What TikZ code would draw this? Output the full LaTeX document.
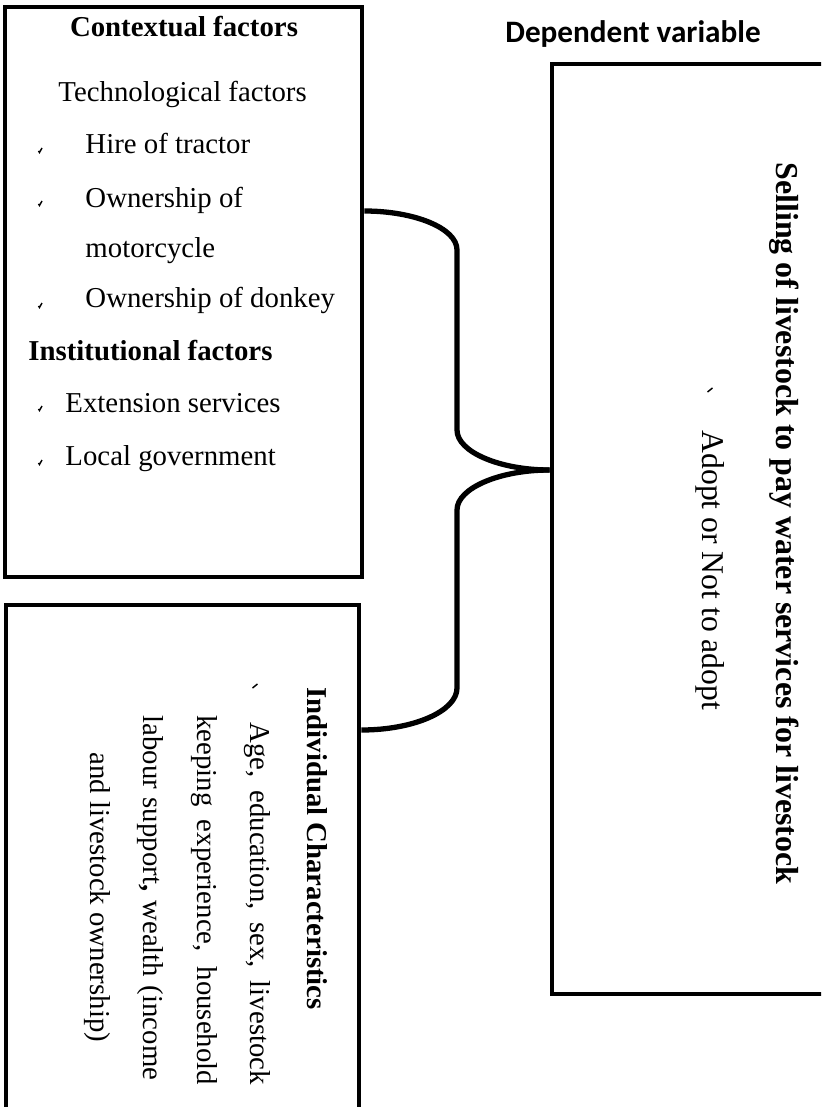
\documentclass[tikz,border=0pt]{standalone}
\usepackage{fontspec}
\setmainfont{Liberation Serif}
\newfontfamily\headfont{Carlito}
\usepackage{tikz}
\usetikzlibrary{fit}
\def\tickmark(#1,#2){\draw[line width=0.6pt] (#1,#2) ++(-1.5,0) -- ++(1,1.5) -- ++(2.5,-4.5);}
\def\tickmarkrot(#1,#2){\draw[line width=0.6pt] (#1,#2) ++(-2.5,2) -- ++(5,-4);}

\begin{document}
\begin{tikzpicture}[x=0.41667pt,y=-0.41667pt,
  box/.style={draw, line width=2pt, inner sep=0pt},
  brace/.style={line width=2.2pt},
  txt/.style={inner sep=0pt, font=\fontsize{12}{14}\selectfont},
  bold/.style={inner sep=0pt, font=\fontsize{12}{14}\selectfont\bfseries}]
\clip (0,0) rectangle (821,1107);
% the three boxes
\node[box, fit={(5,7) (362,577)}] (ctx) {};
\node[box, fit={(6,605) (359,1140)}] (indiv) {};
\node[box, fit={(552,64) (860,994)}] (dep) {};
\node[inner sep=0pt, anchor=base, font=\headfont\bfseries\fontsize{13}{15}\selectfont] (dephead) at (633,43) {Dependent variable};
% contextual factors
\node[bold, anchor=base] (ctxhead) at (184,37) {Contextual factors};
\node[txt, anchor=base west] (tech) at (58,102) {Technological factors};
\node[txt, anchor=base west] (tractor) at (85,154) {Hire of tractor};
\node[txt, anchor=base west] (motor) at (85,208) {Ownership of};
\node[txt, anchor=base west] (motorb) at (85,258) {motorcycle};
\node[txt, anchor=base west] (donkey) at (85,307) {Ownership of donkey};
\node[bold, anchor=base west] (insthead) at (28,360) {Institutional factors};
\node[txt, anchor=base west] (ext) at (65,412) {Extension services};
\node[txt, anchor=base west] (gov) at (65,465) {Local government};
\tickmark(40,151)
\tickmark(40,204)
\tickmark(40,306)
\tickmark(40,409)
\tickmark(40,463)
% individual characteristics
\node[bold, rotate=-90, anchor=base west] (indhead) at (307,687) {Individual Characteristics};
\node[txt, rotate=-90, anchor=base west] (inda) at (250,722) {\makebox[151pt][s]{Age, education, sex, livestock}};
\node[txt, rotate=-90, anchor=base west] (indb) at (197,715) {\makebox[154pt][s]{keeping experience, household}};
\node[txt, rotate=-90, anchor=base west] (indc) at (143,715) {\makebox[152pt][s]{labour support\textbf{,} wealth (income}};
\node[txt, rotate=-90, anchor=base west] (indd) at (90,752) {and livestock ownership)};
\tickmarkrot(255,686)
% dependent variable
\node[inner sep=0pt, font=\fontsize{13.3}{16}\selectfont\bfseries, rotate=-90, anchor=base west] (sell) at (776,162) {Selling of livestock to pay water services for livestock};
\node[inner sep=0pt, font=\fontsize{13.2}{16}\selectfont, rotate=-90, anchor=base west] (adopt) at (702,430) {Adopt or Not to adopt};
\tickmarkrot(710,390)
% brace
\coordinate (toparm) at (0,211);
\coordinate (botarm) at (0,730);
\coordinate (tipy) at (0,470);
\coordinate (tip) at (dep.west |- tipy);
\draw[brace] (ctx.east |- toparm) .. controls (414,211) and (457,228) .. (457,250) -- (457,430) .. controls (457,452) and (500,470) .. (tip);
\draw[brace] (tip) .. controls (500,470) and (457,488) .. (457,510) -- (457,688) .. controls (457,711) and (414,730) .. (indiv.east |- botarm);
\end{tikzpicture}
\end{document}
